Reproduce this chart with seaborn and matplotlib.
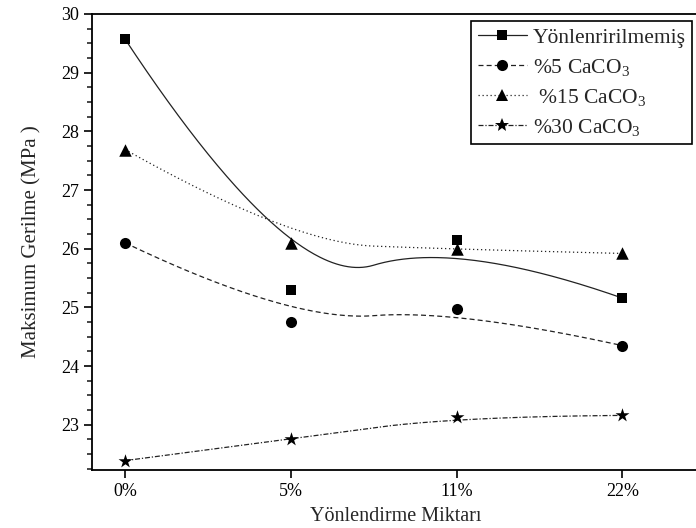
import numpy as np
import pandas as pd
import matplotlib
matplotlib.use("Agg")
import matplotlib.pyplot as plt
from matplotlib.lines import Line2D
from matplotlib.ticker import MultipleLocator
import seaborn as sns

# ---- data ----
categories = ["0%", "5%", "11%", "22%"]
unoriented = [29.57, 25.29, 26.15, 25.16]
caco3_5 = [26.10, 24.75, 24.97, 24.35]
caco3_15 = [27.69, 26.10, 25.99, 25.92]
caco3_30 = [22.39, 22.76, 23.14, 23.16]
series_names = ["Yönlenririlmemiş", "%5 CaCO$_\\mathregular{3}$",
                " %15 CaCO$_\\mathregular{3}$", "%30 CaCO$_\\mathregular{3}$"]
x_label = "Yönlendirme Miktarı"
y_label = "Maksimum Gerilme (MPa )"

sns.set_style("ticks")
plt.rcParams["font.family"] = ["Liberation Serif", "DejaVu Serif"]
plt.rcParams["mathtext.fontset"] = "stix"


def bspline2(xs, ys, n=300, k=2):
    """Clamped B-spline (degree k) using the data points as control points."""
    P = np.column_stack([xs, ys]).astype(float)
    m = len(P)
    inner = np.linspace(0, 1, m - k + 1)[1:-1]
    knots = np.concatenate([np.zeros(k + 1), inner, np.ones(k + 1)])
    t = np.linspace(0, 1 - 1e-9, n)

    def N(i, d):
        if d == 0:
            return np.where((knots[i] <= t) & (t < knots[i + 1]), 1.0, 0.0)
        out = np.zeros_like(t)
        den1 = knots[i + d] - knots[i]
        den2 = knots[i + d + 1] - knots[i + 1]
        if den1 > 0:
            out += (t - knots[i]) / den1 * N(i, d - 1)
        if den2 > 0:
            out += (knots[i + d + 1] - t) / den2 * N(i + 1, d - 1)
        return out

    B = np.array([N(i, k) for i in range(m)])
    C = B.T @ P
    return C[:, 0], C[:, 1]


fig = plt.figure(figsize=(6.96, 5.28), dpi=100)
ax = fig.add_axes([92 / 696, 1 - 470 / 528, (699.5 - 92) / 696, (470 - 14) / 528])

xpos = np.arange(len(categories))
all_series = [unoriented, caco3_5, caco3_15, caco3_30]
styles = ["-", (0, (4, 2.5)), (0, (1, 2.2)), (0, (4, 1.5, 1, 1.5))]
markers = ["s", "o", "^", "*"]
msizes = [7, 8, 9, 10.5]
col = "black"

for vals, ls in zip(all_series, styles):
    cx, cy = bspline2(xpos, vals)
    sns.lineplot(x=cx, y=cy, sort=False, estimator=None, color="#222222",
                 linestyle=ls, linewidth=0.9, ax=ax)

for vals, mk, ms in zip(all_series, markers, msizes):
    df = pd.DataFrame({"x": xpos, "y": vals})
    sns.scatterplot(data=df, x="x", y="y", marker=mk, s=ms ** 2, color=col,
                    edgecolor=col, linewidth=0, ax=ax, zorder=5)

ax.set_xlim(-0.2, 3.466)
ax.set_ylim(22.23, 30)
ax.set_xticks(xpos)
ax.set_xticklabels(categories)
ax.yaxis.set_major_locator(MultipleLocator(1))
ax.yaxis.set_minor_locator(MultipleLocator(0.25))
ax.set_yticks(range(23, 31))
ax.tick_params(axis="both", which="major", direction="out", length=6,
               width=1.2, labelsize=13, colors="black")
ax.tick_params(axis="y", which="minor", direction="out", length=3.5, width=1.2)
for sp in ax.spines.values():
    sp.set_linewidth(1.3)
    sp.set_color("black")
ax.spines["right"].set_visible(False)

ax.set_xlabel(x_label, fontsize=14.5, labelpad=5)
ax.set_ylabel(y_label, fontsize=15, labelpad=14)

handles = [Line2D([0], [0], color="#222222", linestyle=ls, linewidth=0.9,
                  marker=mk, markersize=ms, markerfacecolor=col,
                  markeredgecolor=col, markeredgewidth=0)
           for ls, mk, ms in zip(styles, markers, msizes)]
leg = ax.legend(handles, series_names, loc="upper right",
                bbox_to_anchor=(692 / 696, 1 - 21 / 528),
                bbox_transform=fig.transFigure, fontsize=15.5,
                frameon=True, fancybox=False, framealpha=1, edgecolor="black",
                handlelength=2.3, handletextpad=0.25, labelspacing=0.42,
                borderpad=0.3, borderaxespad=0)
leg.get_frame().set_linewidth(1.2)

fig.savefig("out.png", dpi=100)
